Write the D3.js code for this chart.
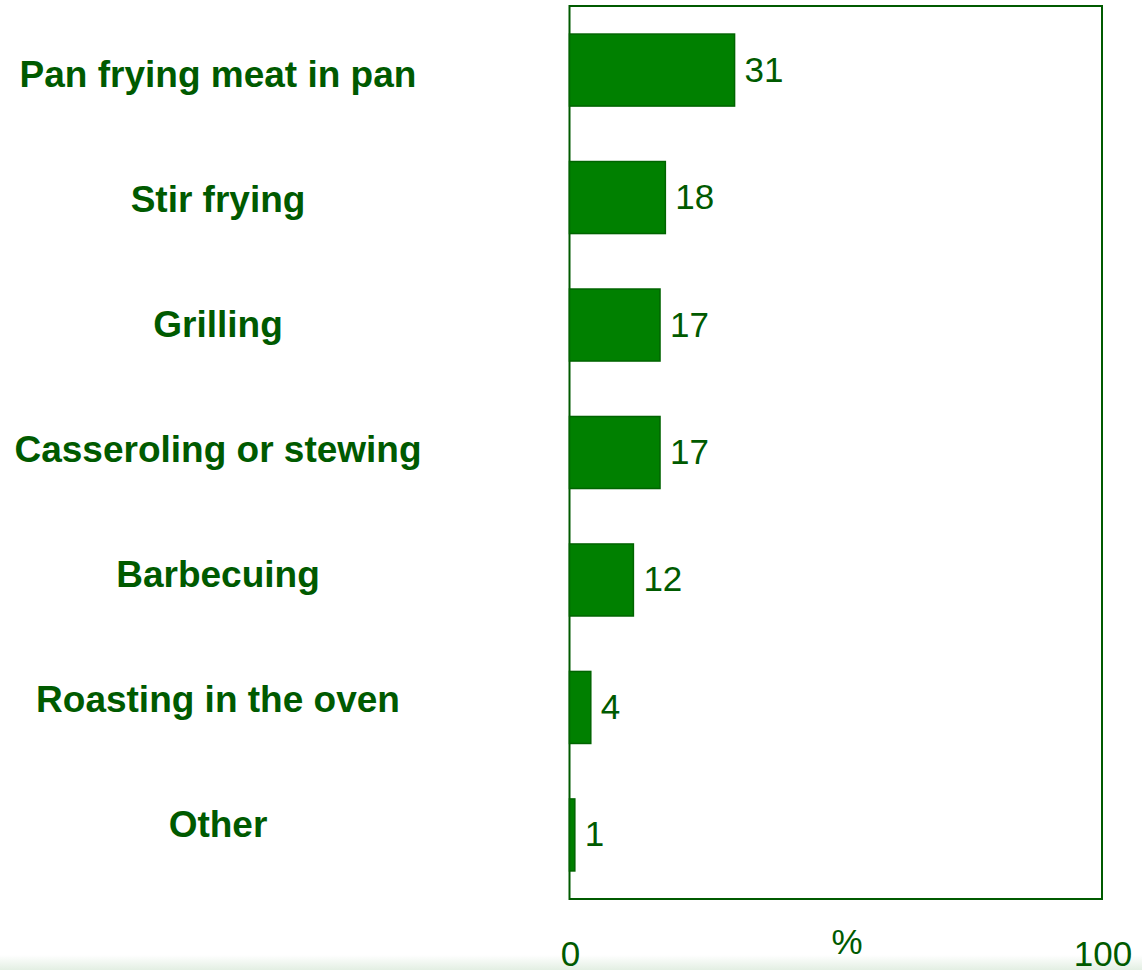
<!DOCTYPE html>
<html>
<head>
<meta charset="utf-8">
<script src="https://cdn.jsdelivr.net/npm/d3@7"></script>
<style>
  body { margin: 0; background: #fff; }
</style>
</head>
<body>
<div id="chart"></div>
<script>
const WIDTH = 1142;
const HEIGHT = 970;

const categories = ["Pan frying meat in pan", "Stir frying", "Grilling", "Casseroling or stewing", "Barbecuing", "Roasting in the oven", "Other"];
const values = [31, 18, 17, 17, 12, 4, 1];
const tickValues = [0, 100];
const axisTitle = "%";

const textColor = "#005a00";

function main(){
    let svg = d3.select("#chart")
        .append("svg")
        .attr("width", WIDTH)
        .attr("height", HEIGHT);

    let left = 569.5, right = 1102, top = 6, bottom = 899;

    let x = d3.scaleLinear().domain([0, 100]).range([left, right]);
    let y = d3.scaleBand().domain(categories).range([top, bottom]).paddingInner(0.435).paddingOuter(0.22);
    // category labels sit on their own, slightly tighter spacing
    let labelY = d3.scalePoint().domain(categories).range([87, 837]);

    // faint bottom edge
    let grad = svg.append("defs").append("linearGradient")
        .attr("id", "fade").attr("x1", 0).attr("y1", 0).attr("x2", 0).attr("y2", 1);
    grad.append("stop").attr("offset", "0%").style("stop-color", "#ffffff");
    grad.append("stop").attr("offset", "100%").style("stop-color", "#e3efe3");
    svg.append("rect")
        .attr("x", 0).attr("y", 955).attr("width", WIDTH).attr("height", 15)
        .style("fill", "url(#fade)");

    // frame
    svg.append("rect")
        .attr("x", left).attr("y", top)
        .attr("width", right - left).attr("height", bottom - top)
        .style("fill", "none")
        .style("stroke", "#005a00")
        .style("stroke-width", 2);

    // bars
    svg.selectAll(".bar")
        .data(values)
        .enter()
        .append("rect")
        .attr("class", "bar")
        .attr("x", x(0))
        .attr("y", (d, i) => y(categories[i]))
        .attr("width", d => x(d) - x(0))
        .attr("height", y.bandwidth())
        .style("fill", "#008000")
        .style("stroke", "#006400")
        .style("stroke-width", 1.5);

    // value labels
    svg.selectAll(".val")
        .data(values)
        .enter()
        .append("text")
        .attr("class", "val")
        .attr("x", d => x(d) + 10)
        .attr("y", (d, i) => y(categories[i]) + y.bandwidth() / 2 + 11.5)
        .style("font-family", "Liberation Sans, Arial, sans-serif")
        .style("font-size", "35px")
        .style("fill", textColor)
        .text(d => d);

    // category labels
    svg.selectAll(".cat")
        .data(categories)
        .enter()
        .append("text")
        .attr("class", "cat")
        .attr("x", 218)
        .attr("y", d => labelY(d))
        .attr("text-anchor", "middle")
        .style("font-family", "Liberation Sans, Arial, sans-serif")
        .style("font-weight", "bold")
        .style("font-size", "37px")
        .style("fill", textColor)
        .text(d => d);

    // tick labels
    svg.selectAll(".tick")
        .data(tickValues)
        .enter()
        .append("text")
        .attr("class", "tick")
        .attr("x", d => x(d) + 1)
        .attr("y", 966)
        .attr("text-anchor", "middle")
        .style("font-family", "Liberation Sans, Arial, sans-serif")
        .style("font-size", "35px")
        .style("fill", textColor)
        .text(d => d);

    svg.append("text")
        .attr("x", 847)
        .attr("y", 954)
        .attr("text-anchor", "middle")
        .style("font-family", "Liberation Sans, Arial, sans-serif")
        .style("font-size", "35px")
        .style("fill", textColor)
        .text(axisTitle);
}

main();
</script>
</body>
</html>
